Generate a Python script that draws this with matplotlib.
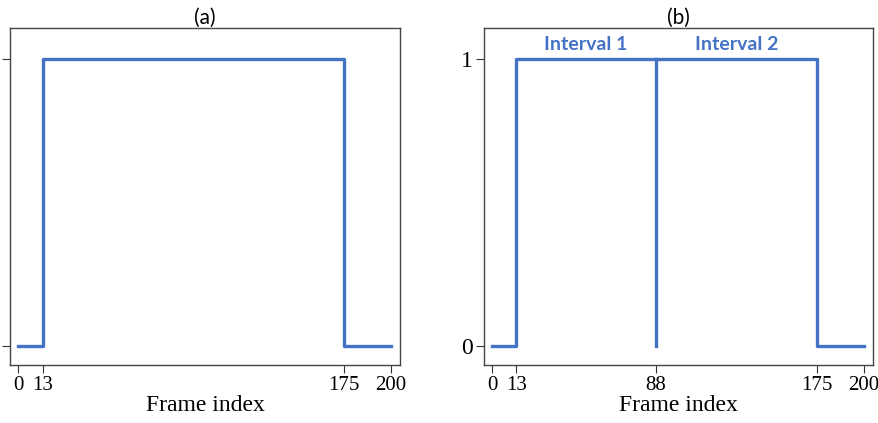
import matplotlib.pyplot as plt

# Datos de la señal
frames = [0, 13, 175, 200]
signal = [0, 1, 0, 0]
split_frame = 88
xticks_a = [0, 13, 175, 200]
xticks_b = [0, 13, 88, 175, 200]
yticks = [0, 1]
interval_labels = ['Interval 1', 'Interval 2']
interval_bounds = [13, 88, 175]

blue = '#4472C4'
serif = 'Liberation Serif'
sans = 'Lato'

fig = plt.figure(figsize=(8.79, 4.23), dpi=100)
ax_a = fig.add_axes([10 / 879, 1 - 365 / 423, 390 / 879, 337 / 423])
ax_b = fig.add_axes([484 / 879, 1 - 365 / 423, 389 / 879, 337 / 423])

for ax in (ax_a, ax_b):
    ax.step(frames, signal, where='post', color=blue, lw=2.4)
    ax.set_xlim(-4.5, 205)
    ax.set_ylim(-0.066, 1.108)
    ax.set_yticks(yticks)
    ax.set_xlabel('Frame index', family=serif, fontsize=17, labelpad=0)
    ax.tick_params(axis='both', direction='out', length=6, width=0.8, color='#333333', pad=2)
    for sp in ax.spines.values():
        sp.set_color('#444444')
        sp.set_linewidth(1.0)

ax_a.set_xticks(xticks_a)
ax_a.set_xticklabels([str(t) for t in xticks_a], family=serif, fontsize=15)
ax_a.set_yticklabels([])
ax_a.set_title('(a)', family=sans, fontsize=15, pad=2)

ax_b.set_xticks(xticks_b)
ax_b.set_xticklabels([str(t) for t in xticks_b], family=serif, fontsize=15)
ax_b.set_yticklabels([str(t) for t in yticks], family=serif, fontsize=17)
ax_b.set_title('(b)', family=sans, fontsize=15, pad=2)
ax_b.plot([split_frame, split_frame], [0, 1], color=blue, lw=2.4)

for i, lab in enumerate(interval_labels):
    mid = (interval_bounds[i] + interval_bounds[i + 1]) / 2
    ax_b.text(mid, 1.052, lab, ha='center', va='center', color=blue,
              family=sans, fontweight='bold', fontsize=14)

fig.savefig('out.png', dpi=100)
